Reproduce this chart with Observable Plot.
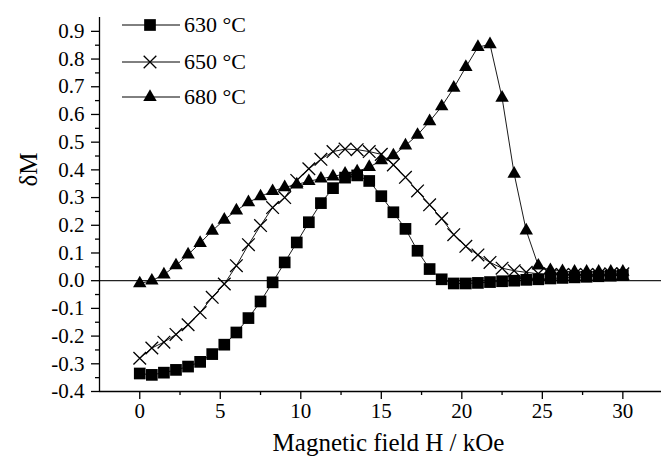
<!DOCTYPE html>
<html><head><meta charset="utf-8">
<script src="https://cdn.jsdelivr.net/npm/d3@7"></script>
<script src="https://cdn.jsdelivr.net/npm/@observablehq/plot@0.6"></script>
<style>
html,body{margin:0;padding:0;background:#fff;}
#wrap{position:relative;width:661px;height:461px;overflow:hidden;}
#wrap svg{display:block;}
#legend{position:absolute;left:0;top:0;}
</style></head><body><div id="wrap"></div>
<script>
// Magnetic field H (kOe)
const field = [0,0.75,1.5,2.25,3,3.75,4.5,5.25,6,6.75,7.5,8.25,9,9.75,10.5,11.25,12,12.75,13.5,14.25,15,15.75,16.5,17.25,18,18.75,19.5,20.25,21,21.75,22.5,23.25,24,24.75,25.5,26.25,27,27.75,28.5,29.25,30];
const dM630 = [-0.335,-0.34,-0.332,-0.322,-0.31,-0.293,-0.265,-0.231,-0.187,-0.135,-0.075,-0.006,0.066,0.138,0.211,0.28,0.334,0.372,0.38,0.36,0.305,0.247,0.187,0.108,0.042,0.005,-0.01,-0.01,-0.008,-0.005,-0.002,0.0,0.003,0.005,0.008,0.01,0.012,0.014,0.016,0.018,0.02];
const dM650 = [-0.28,-0.243,-0.222,-0.194,-0.159,-0.115,-0.06,-0.012,0.054,0.13,0.199,0.264,0.30,0.362,0.404,0.438,0.466,0.475,0.473,0.466,0.456,0.418,0.373,0.324,0.274,0.224,0.166,0.124,0.093,0.066,0.045,0.036,0.03,0.025,0.022,0.022,0.022,0.022,0.022,0.025,0.025];
const dM680 = [-0.01,0.0,0.022,0.055,0.094,0.136,0.18,0.22,0.253,0.283,0.304,0.323,0.337,0.347,0.359,0.368,0.376,0.386,0.394,0.41,0.434,0.452,0.488,0.526,0.575,0.629,0.696,0.771,0.843,0.853,0.66,0.386,0.181,0.054,0.038,0.034,0.032,0.032,0.032,0.032,0.032];
const seriesNames = ["630 °C","650 °C","680 °C"];
const seriesSymbols = ["square","times","triangle"];

const xDomain = [-2.5, 32.4];
const yDomain = [-0.4, 0.95];
const xMajor = [0,5,10,15,20,25,30];
const xMinor = [2.5,7.5,12.5,17.5,22.5,27.5];
const yMajor = [-0.4,-0.3,-0.2,-0.1,0.0,0.1,0.2,0.3,0.4,0.5,0.6,0.7,0.8,0.9];
const yMinor = [-0.35,-0.25,-0.15,-0.05,0.05,0.15,0.25,0.35,0.45,0.55,0.65,0.75,0.85];
const xTitle = "Magnetic field H / kOe";
const yTitle = "δM";

const rows = (vals, s) => field.map((h, i) => ({h, v: vals[i], s}));
const d630 = rows(dM630, seriesNames[0]);
const d650 = rows(dM650, seriesNames[1]);
const d680 = rows(dM680, seriesNames[2]);

const FONT = "'Liberation Serif', 'DejaVu Serif'";
const R = {square: 6.6, times: 5.8, triangle: 5.0};

const chart = Plot.plot({
  width: 661, height: 461,
  marginLeft: 99, marginRight: 0, marginTop: 17, marginBottom: 70,
  style: {fontFamily: FONT, fontSize: "20px", color: "black", background: "white", overflow: "visible"},
  x: {domain: xDomain},
  y: {domain: yDomain},
  marks: [
    Plot.ruleY([0], {stroke: "#222", strokeWidth: 1.3}),
    Plot.ruleX([xDomain[0]], {stroke: "black", strokeWidth: 1.3}),
    Plot.ruleY([yDomain[0]], {stroke: "black", strokeWidth: 1.3}),
    Plot.axisX(xMinor, {tickSize: 4, tickFormat: () => "", label: null, strokeWidth: 1.3}),
    Plot.axisX(xMajor, {tickSize: 8, tickFormat: () => "", label: null, strokeWidth: 1.3}),
    Plot.axisY(yMinor, {tickSize: 4, tickFormat: () => "", label: null, strokeWidth: 1.3}),
    Plot.axisY(yMajor, {tickSize: 8, tickFormat: () => "", label: null, strokeWidth: 1.3}),
    // tick labels
    Plot.text(xMajor, {x: d => d, frameAnchor: "bottom", dy: 26, text: d => String(d), fontSize: 21, fill: "black", fontFamily: FONT}),
    Plot.text(yMajor, {y: d => d, frameAnchor: "left", dx: -15, textAnchor: "end", text: d => d.toFixed(1), fontSize: 21, fill: "black", fontFamily: FONT}),
    Plot.line(d630, {x: "h", y: "v", stroke: "black", strokeWidth: 0.9}),
    Plot.line(d650, {x: "h", y: "v", stroke: "black", strokeWidth: 0.9}),
    Plot.line(d680, {x: "h", y: "v", stroke: "black", strokeWidth: 0.9}),
    Plot.dot(d630, {x: "h", y: "v", symbol: "square", r: R.square, fill: "black", stroke: "none"}),
    Plot.dot(d650, {x: "h", y: "v", symbol: "times", r: R.times, stroke: "black", strokeWidth: 1.3, fill: "none"}),
    Plot.dot(d680, {x: "h", y: "v", symbol: "triangle", r: R.triangle, fill: "black", stroke: "none"}),
    Plot.text([xTitle], {frameAnchor: "bottom", dy: 59, fontSize: 25, fill: "black", dx: 8, fontFamily: FONT}),
    Plot.text([yTitle], {frameAnchor: "left", dx: -71, rotate: -90, fontSize: 25, fill: "black", dy: -18, fontFamily: FONT})
  ]
});
const wrap = document.getElementById("wrap");
wrap.appendChild(chart);

const leg = d3.select(wrap).append("svg").attr("id", "legend")
  .attr("width", 661).attr("height", 461);
const rowY = [25, 62, 97];
const sym = {square: d3.symbolSquare, times: d3.symbolTimes, triangle: d3.symbolTriangle};
seriesNames.forEach((name, i) => {
  const g = leg.append("g").attr("transform", `translate(0,${rowY[i]})`);
  g.append("line").attr("x1", 122).attr("x2", 180).attr("y1", 0).attr("y2", 0)
    .attr("stroke", "black").attr("stroke-width", 1);
  const s = seriesSymbols[i];
  const r = R[s];
  const p = g.append("path").attr("transform", "translate(150,0)")
    .attr("d", d3.symbol(sym[s], Math.PI * r * r)());
  if (s === "times") p.attr("fill", "none").attr("stroke", "black").attr("stroke-width", 1.3);
  else p.attr("fill", "black");
  g.append("text").attr("x", 184).attr("y", 7).attr("font-size", 22)
    .attr("font-family", FONT).attr("fill", "black").text(name);
});
</script>
</body></html>
